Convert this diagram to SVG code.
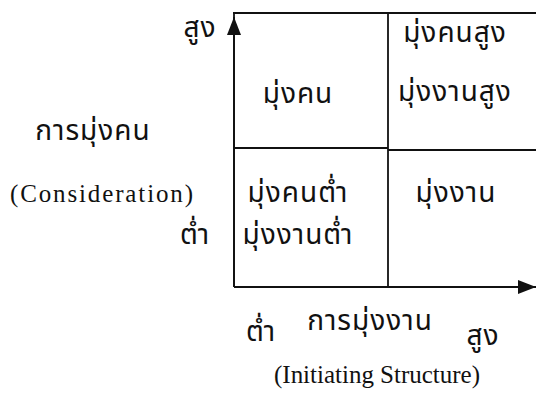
<svg xmlns="http://www.w3.org/2000/svg" width="536" height="395" viewBox="0 0 536 395">
<style>
.th{font-family:"Noto Sans Thai","Noto Sans","DejaVu Sans",sans-serif;font-size:28px;letter-spacing:1px;fill:#111;text-anchor:middle}
.en{font-family:"Liberation Serif","Times New Roman",serif;font-size:25px;fill:#111}
.ln{stroke:#111;stroke-width:1.8;fill:none}
</style>
<defs>
<marker id="ah" markerWidth="18" markerHeight="14" refX="18" refY="7" orient="auto" markerUnits="userSpaceOnUse">
<path d="M0,0 L18,7 L0,14 Z" fill="#111"/>
</marker>
</defs>
<g id="connectors">
<line class="ln" x1="234" y1="287" x2="234" y2="13"/>
<line class="ln" x1="234" y1="287" x2="234" y2="17" marker-end="url(#ah)"/>
<line class="ln" x1="233" y1="13" x2="536" y2="13"/>
<line class="ln" x1="388" y1="13" x2="388" y2="287"/>
<line class="ln" x1="234" y1="148" x2="388" y2="148"/>
<line class="ln" x1="388" y1="150" x2="536" y2="150"/>
<line class="ln" x1="234" y1="287" x2="536" y2="287" marker-end="url(#ah)"/>
</g>
<g id="q-people"><text class="th" x="298" y="103">มุ่งคน</text></g>
<g id="q-high"><text class="th" x="455" y="42">มุ่งคนสูง</text><text class="th" x="455" y="101">มุ่งงานสูง</text></g>
<g id="q-low"><text class="th" x="298" y="202">มุ่งคนต่ำ</text><text class="th" x="298" y="244">มุ่งงานต่ำ</text></g>
<g id="q-task"><text class="th" x="456" y="202">มุ่งงาน</text></g>
<g id="y-axis-labels">
<text class="th" x="200" y="37">สูง</text>
<text class="th" x="93" y="140">การมุ่งคน</text>
<text class="en" x="10" y="202" font-size="26" textLength="183" lengthAdjust="spacing">(Consideration)</text>
<text class="th" x="195" y="244">ต่ำ</text>
</g>
<g id="x-axis-labels">
<text class="th" x="261" y="341">ต่ำ</text>
<text class="th" x="370" y="330">การมุ่งงาน</text>
<text class="th" x="483" y="345">สูง</text>
<text class="en" x="274" y="383" textLength="206" lengthAdjust="spacing">(Initiating Structure)</text>
</g>
</svg>
